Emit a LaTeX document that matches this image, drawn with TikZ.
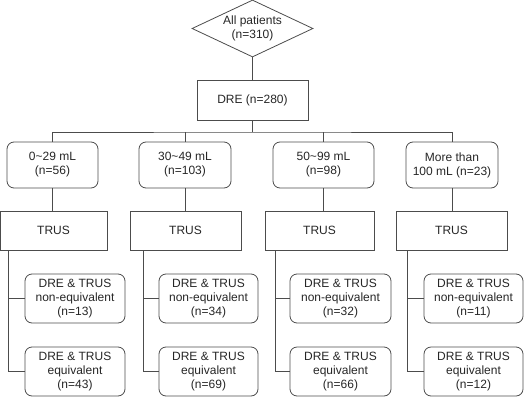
\documentclass[tikz,border=0pt]{standalone}
\usepackage{fontspec}
\setmainfont{Liberation Sans}
\usetikzlibrary{shapes.geometric}
\begin{document}
\begin{tikzpicture}[x=1pt,y=-1pt,
  conn/.style={draw=black!70, line width=0.8pt},
  boxbase/.style={draw=black!70, line width=0.8pt, rectangle, align=center,
    font=\fontsize{12}{14}\selectfont, inner sep=0pt, text=black!85},
  sqbox/.style={boxbase},
  rndbox/.style={boxbase, rounded corners=7pt},
  dia/.style={boxbase, diamond, aspect=2.1, minimum width=121pt, minimum height=57pt}]
\useasboundingbox (0,0) rectangle (526,401);
\node[dia] (all) at (252.5,28.5) {All patients\\(n=310)};
\node[sqbox, minimum width=111pt, minimum height=40pt] (dre) at (252.5,100) {DRE (n=280)};
\coordinate (bus) at (252.5,132);

\node[rndbox, minimum width=91pt, minimum height=46pt] (v1) at (52.5,165) {0\textasciitilde29 mL\\(n=56)};
\node[rndbox, minimum width=92pt, minimum height=46pt] (v2) at (185,165) {30\textasciitilde49 mL\\(n=103)};
\node[rndbox, minimum width=101pt, minimum height=46pt] (v3) at (323.5,165) {50\textasciitilde99 mL\\(n=98)};
\node[rndbox, minimum width=92pt, minimum height=46pt] (v4) at (452,165) {More than\\100 mL (n=23)};

\node[sqbox, minimum width=107pt, minimum height=39pt] (t1) at (53.5,230.5) {TRUS};
\node[sqbox, minimum width=111pt, minimum height=39pt] (t2) at (185.5,230.5) {TRUS};
\node[sqbox, minimum width=109pt, minimum height=39pt] (t3) at (319.5,230.5) {TRUS};
\node[sqbox, minimum width=111pt, minimum height=39pt] (t4) at (451.5,230.5) {TRUS};

\node[rndbox, minimum width=100pt, minimum height=49pt] (n1) at (75,298.5) {DRE \& TRUS\\non-equivalent\\(n=13)};
\node[rndbox, minimum width=100pt, minimum height=49pt] (e1) at (75,371.5) {DRE \& TRUS\\equivalent\\(n=43)};
\node[rndbox, minimum width=99pt, minimum height=49pt] (n2) at (208.5,298.5) {DRE \& TRUS\\non-equivalent\\(n=34)};
\node[rndbox, minimum width=99pt, minimum height=49pt] (e2) at (208.5,371.5) {DRE \& TRUS\\equivalent\\(n=69)};
\node[rndbox, minimum width=101pt, minimum height=49pt] (n3) at (340.5,298.5) {DRE \& TRUS\\non-equivalent\\(n=32)};
\node[rndbox, minimum width=101pt, minimum height=49pt] (e3) at (340.5,371.5) {DRE \& TRUS\\equivalent\\(n=66)};
\node[rndbox, minimum width=99pt, minimum height=49pt] (n4) at (473.5,298.5) {DRE \& TRUS\\non-equivalent\\(n=11)};
\node[rndbox, minimum width=99pt, minimum height=49pt] (e4) at (473.5,371.5) {DRE \& TRUS\\equivalent\\(n=12)};

\draw[conn] (all.south) -- (dre.north);
\draw[conn] (dre.south) -- (bus);
\draw[conn] (v1.north) |- (bus) -| (v4.north);
\draw[conn] (v2.north) -- (v2.north |- bus);
\draw[conn] (v3.north) -- (v3.north |- bus);
\foreach \i in {1,2,3,4} {\draw[conn] (v\i.south) -- (v\i.south |- t\i.north);}

\coordinate (s1) at (8,250);
\coordinate (s2) at (143,250);
\coordinate (s3) at (275,250);
\coordinate (s4) at (407,250);
\foreach \i in {1,2,3,4} {
  \draw[conn] (s\i) |- (e\i.west);
  \draw[conn] (n\i.west) -- (n\i.west -| s\i);
}
\end{tikzpicture}
\end{document}
